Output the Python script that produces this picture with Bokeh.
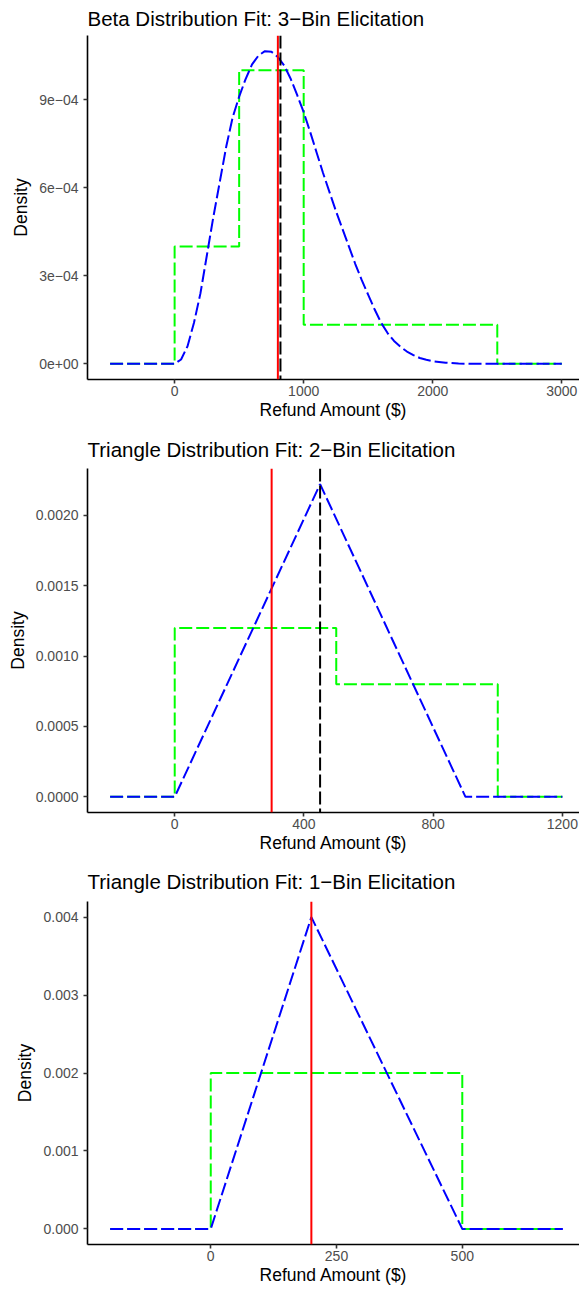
from bokeh.plotting import figure
from bokeh.layouts import column
from bokeh.models import Range1d, Span, FixedTicker, CustomJSTickFormatter
from bokeh.embed import file_html
from bokeh.resources import INLINE

# ---------------- Panel 1: Beta fit, 3-bin elicitation ----------------
beta_title = "Beta Distribution Fit: 3\u2212Bin Elicitation"
beta_x = [-500, 0, 50, 100, 150, 200, 250, 300, 350, 400, 450, 500, 550, 600,
          650, 700, 750, 800, 850, 900, 950, 1000, 1050, 1100, 1150, 1200,
          1250, 1300, 1350, 1400, 1450, 1500, 1550, 1600, 1650, 1700, 1750,
          1800, 1850, 1900, 1950, 2000, 2100, 2200, 2300, 3000]
beta_density = [0, 0, 1.5e-5, 6.0e-5, 1.4e-4, 2.4e-4, 3.7e-4, 5.0e-4, 6.2e-4,
                7.4e-4, 8.4e-4, 9.1e-4, 9.7e-4, 1.02e-3, 1.05e-3, 1.065e-3,
                1.063e-3, 1.045e-3, 1.015e-3, 9.7e-4, 9.15e-4, 8.57e-4, 7.9e-4,
                7.2e-4, 6.5e-4, 5.85e-4, 5.2e-4, 4.6e-4, 4.0e-4, 3.4e-4,
                2.85e-4, 2.35e-4, 1.85e-4, 1.4e-4, 1.05e-4, 7.8e-5, 5.8e-5,
                4.2e-5, 3.0e-5, 2.0e-5, 1.4e-5, 9e-6, 4e-6, 1e-6, 0, 0]
beta_bin_edges = [0, 500, 1000, 2500]
beta_bin_density = [4.0e-4, 1.0e-3, 1.333e-4]
beta_red_line = 800
beta_black_line = 820
beta_xticks = [0, 1000, 2000, 3000]
beta_xlabels = ["0", "1000", "2000", "3000"]
beta_yticks = [0, 3e-4, 6e-4, 9e-4]
beta_ylabels = ["0e+00", "3e\u221204", "6e\u221204", "9e\u221204"]

# ---------------- Panel 2: Triangle fit, 2-bin elicitation ----------------
tri2_title = "Triangle Distribution Fit: 2\u2212Bin Elicitation"
tri2_x = [-200, 0, 450, 900, 1200]
tri2_density = [0, 0, 0.002222, 0, 0]
tri2_bin_edges = [0, 500, 1000]
tri2_bin_density = [0.0012, 0.0008]
tri2_red_line = 300
tri2_black_line = 450
tri2_xticks = [0, 400, 800, 1200]
tri2_xlabels = ["0", "400", "800", "1200"]
tri2_yticks = [0, 0.0005, 0.0010, 0.0015, 0.0020]
tri2_ylabels = ["0.0000", "0.0005", "0.0010", "0.0015", "0.0020"]

# ---------------- Panel 3: Triangle fit, 1-bin elicitation ----------------
tri1_title = "Triangle Distribution Fit: 1\u2212Bin Elicitation"
tri1_x = [-200, 0, 200, 500, 700]
tri1_density = [0, 0, 0.004, 0, 0]
tri1_bin_edges = [0, 500]
tri1_bin_density = [0.002]
tri1_red_line = 200
tri1_xticks = [0, 250, 500]
tri1_xlabels = ["0", "250", "500"]
tri1_yticks = [0, 0.001, 0.002, 0.003, 0.004]
tri1_ylabels = ["0.000", "0.001", "0.002", "0.003", "0.004"]

FONT = "Liberation Sans"
DASH = "13 4"
LW = 2.0
PAGE_W = 579


def step_path(edges, dens, xmin, xmax):
    xs = [xmin, edges[0]]
    ys = [0, 0]
    for i, d in enumerate(dens):
        xs += [edges[i], edges[i + 1]]
        ys += [d, d]
    xs += [edges[-1], xmax]
    ys += [0, 0]
    return xs, ys


def label_formatter(vals, labels):
    return CustomJSTickFormatter(
        args=dict(vals=vals, labels=labels),
        code="""
        let best = 0;
        for (let i = 0; i < vals.length; i++) {
            if (Math.abs(vals[i] - tick) < Math.abs(vals[best] - tick)) best = i;
        }
        return labels[best];
        """)


def make_panel(title, height, left, top, bottom, xr, ymax,
               xs_fit, ys_fit, edges, dens, red, black,
               xticks, xlabels, yticks, ylabels, title_standoff):
    p = figure(width=PAGE_W, height=height,
               x_range=Range1d(*xr),
               y_range=Range1d(-0.05 * ymax, 1.05 * ymax),
               output_backend="svg", toolbar_location=None,
               min_border_left=left, min_border_right=0,
               min_border_top=top, min_border_bottom=bottom,
               title=title)
    p.outline_line_color = None
    p.xgrid.visible = False
    p.ygrid.visible = False
    p.background_fill_color = "white"
    p.border_fill_color = "white"

    t = p.title
    t.text_font = FONT
    t.text_font_size = "20.5px"
    t.text_font_style = "normal"
    t.text_color = "black"
    t.align = "left"
    t.vertical_align = "top"
    t.offset = 0
    t.standoff = title_standoff

    for ax in (p.xaxis[0], p.yaxis[0]):
        ax.axis_line_color = "black"
        ax.axis_line_width = 1.6
        ax.major_tick_line_color = "#333333"
        ax.major_tick_line_width = 1.6
        ax.major_tick_out = 4
        ax.major_tick_in = 0
        ax.minor_tick_line_color = None
        ax.major_label_text_font = FONT
        ax.major_label_text_font_size = "14px"
        ax.major_label_text_color = "#4D4D4D"
        ax.axis_label_text_font = FONT
        ax.axis_label_text_font_size = "17.5px"
        ax.axis_label_text_font_style = "normal"
        ax.axis_label_text_color = "black"

    p.xaxis[0].ticker = FixedTicker(ticks=xticks, minor_ticks=[])
    p.xaxis[0].formatter = label_formatter(xticks, xlabels)
    p.yaxis[0].ticker = FixedTicker(ticks=yticks, minor_ticks=[])
    p.yaxis[0].formatter = label_formatter(yticks, ylabels)
    p.xaxis[0].axis_label = "Refund Amount ($)"
    p.yaxis[0].axis_label = "Density"
    p.xaxis[0].major_label_standoff = 2
    p.yaxis[0].major_label_standoff = 5
    p.xaxis[0].axis_label_standoff = 1
    p.yaxis[0].axis_label_standoff = 5

    gx, gy = step_path(edges, dens, xs_fit[0], xs_fit[-1])
    p.line(gx, gy, line_color="#00FF00", line_width=LW, line_dash=DASH)
    p.line(xs_fit, ys_fit, line_color="#0000FF", line_width=LW, line_dash=DASH)
    if black is not None:
        p.add_layout(Span(location=black, dimension="height", line_color="black",
                          line_width=LW, line_dash=DASH))
    p.add_layout(Span(location=red, dimension="height", line_color="#FF0000",
                      line_width=LW))
    return p


p1 = make_panel(beta_title, 430, 83, 35, 51, (-675, 3137), max(beta_density),
                beta_x, beta_density, beta_bin_edges, beta_bin_density,
                beta_red_line, beta_black_line,
                beta_xticks, beta_xlabels, beta_yticks, beta_ylabels, 8)
p2 = make_panel(tri2_title, 430, 87, 38, 48, (-270, 1253), max(tri2_density),
                tri2_x, tri2_density, tri2_bin_edges, tri2_bin_density,
                tri2_red_line, tri2_black_line,
                tri2_xticks, tri2_xlabels, tri2_yticks, tri2_ylabels, 11)
p3 = make_panel(tri1_title, 429, 79, 41, 45, (-245, 733), max(tri1_density),
                tri1_x, tri1_density, tri1_bin_edges, tri1_bin_density,
                tri1_red_line, None,
                tri1_xticks, tri1_xlabels, tri1_yticks, tri1_ylabels, 13)

layout = column(p1, p2, p3, spacing=0)
open("out.html", "w").write(file_html(layout, INLINE))
